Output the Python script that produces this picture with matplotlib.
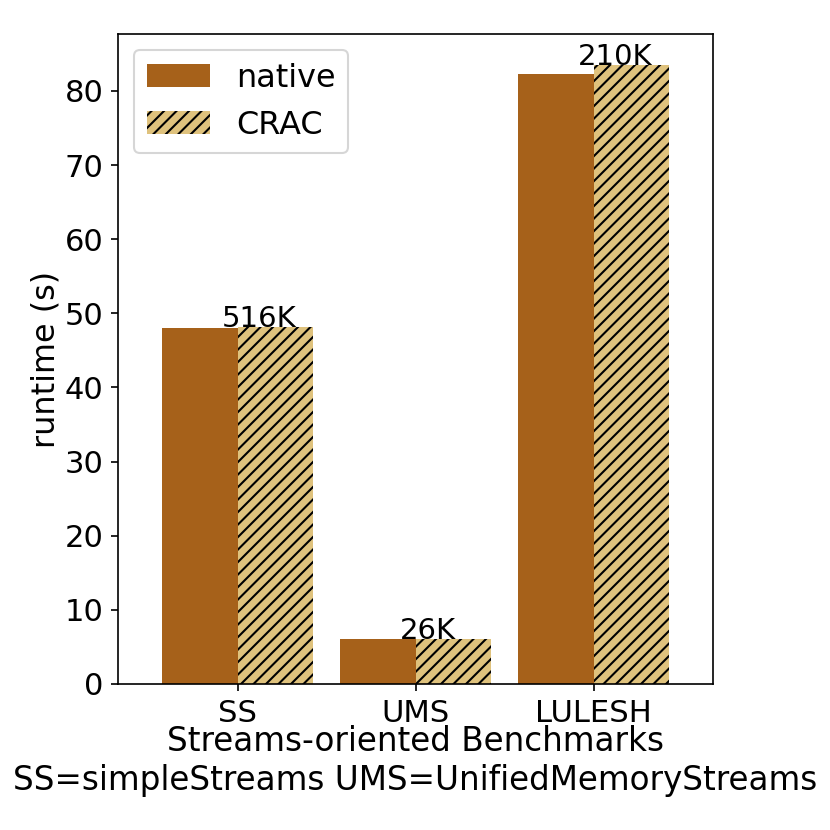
import matplotlib
matplotlib.use('Agg')
import matplotlib.pyplot as plt
import numpy as np

benchmarks = ['SS', 'UMS', 'LULESH']
native = [48.0, 6.0, 82.3]
crac = [48.1, 6.0, 83.5]
ckpt_sizes = ['516K', '26K', '210K']

x = np.arange(len(benchmarks))
width = 0.425

fig, ax = plt.subplots(figsize=(830 / 150, 830 / 150), dpi=150)
fig.subplots_adjust(left=0.142, right=0.859, top=0.959, bottom=0.176)

ax.bar(x - width / 2, native, width, color='#a6611a', label='native')
ax.bar(x + width / 2, crac, width, color='#dfc27d', edgecolor='black',
       linewidth=0, hatch='////', label='CRAC')

# checkpoint sizes on top of the CRAC bars
for i, lbl in enumerate(ckpt_sizes):
    ax.text(x[i] - 0.09, crac[i], lbl, ha='left', va='baseline', fontsize=14)

ax.set_xlim(-0.672, 2.67)
ax.set_xticks(x)
ax.set_xticklabels(benchmarks)
ax.tick_params(labelsize=14.7)
ax.set_ylabel('runtime (s)', fontsize=15.3, labelpad=1.5)
ax.set_xlabel('Streams-oriented Benchmarks\nSS=simpleStreams UMS=UnifiedMemoryStreams',
              fontsize=15.7, labelpad=-1)
ax.legend(loc='upper left', fontsize=15.3)

fig.savefig('out.png', dpi=150)
